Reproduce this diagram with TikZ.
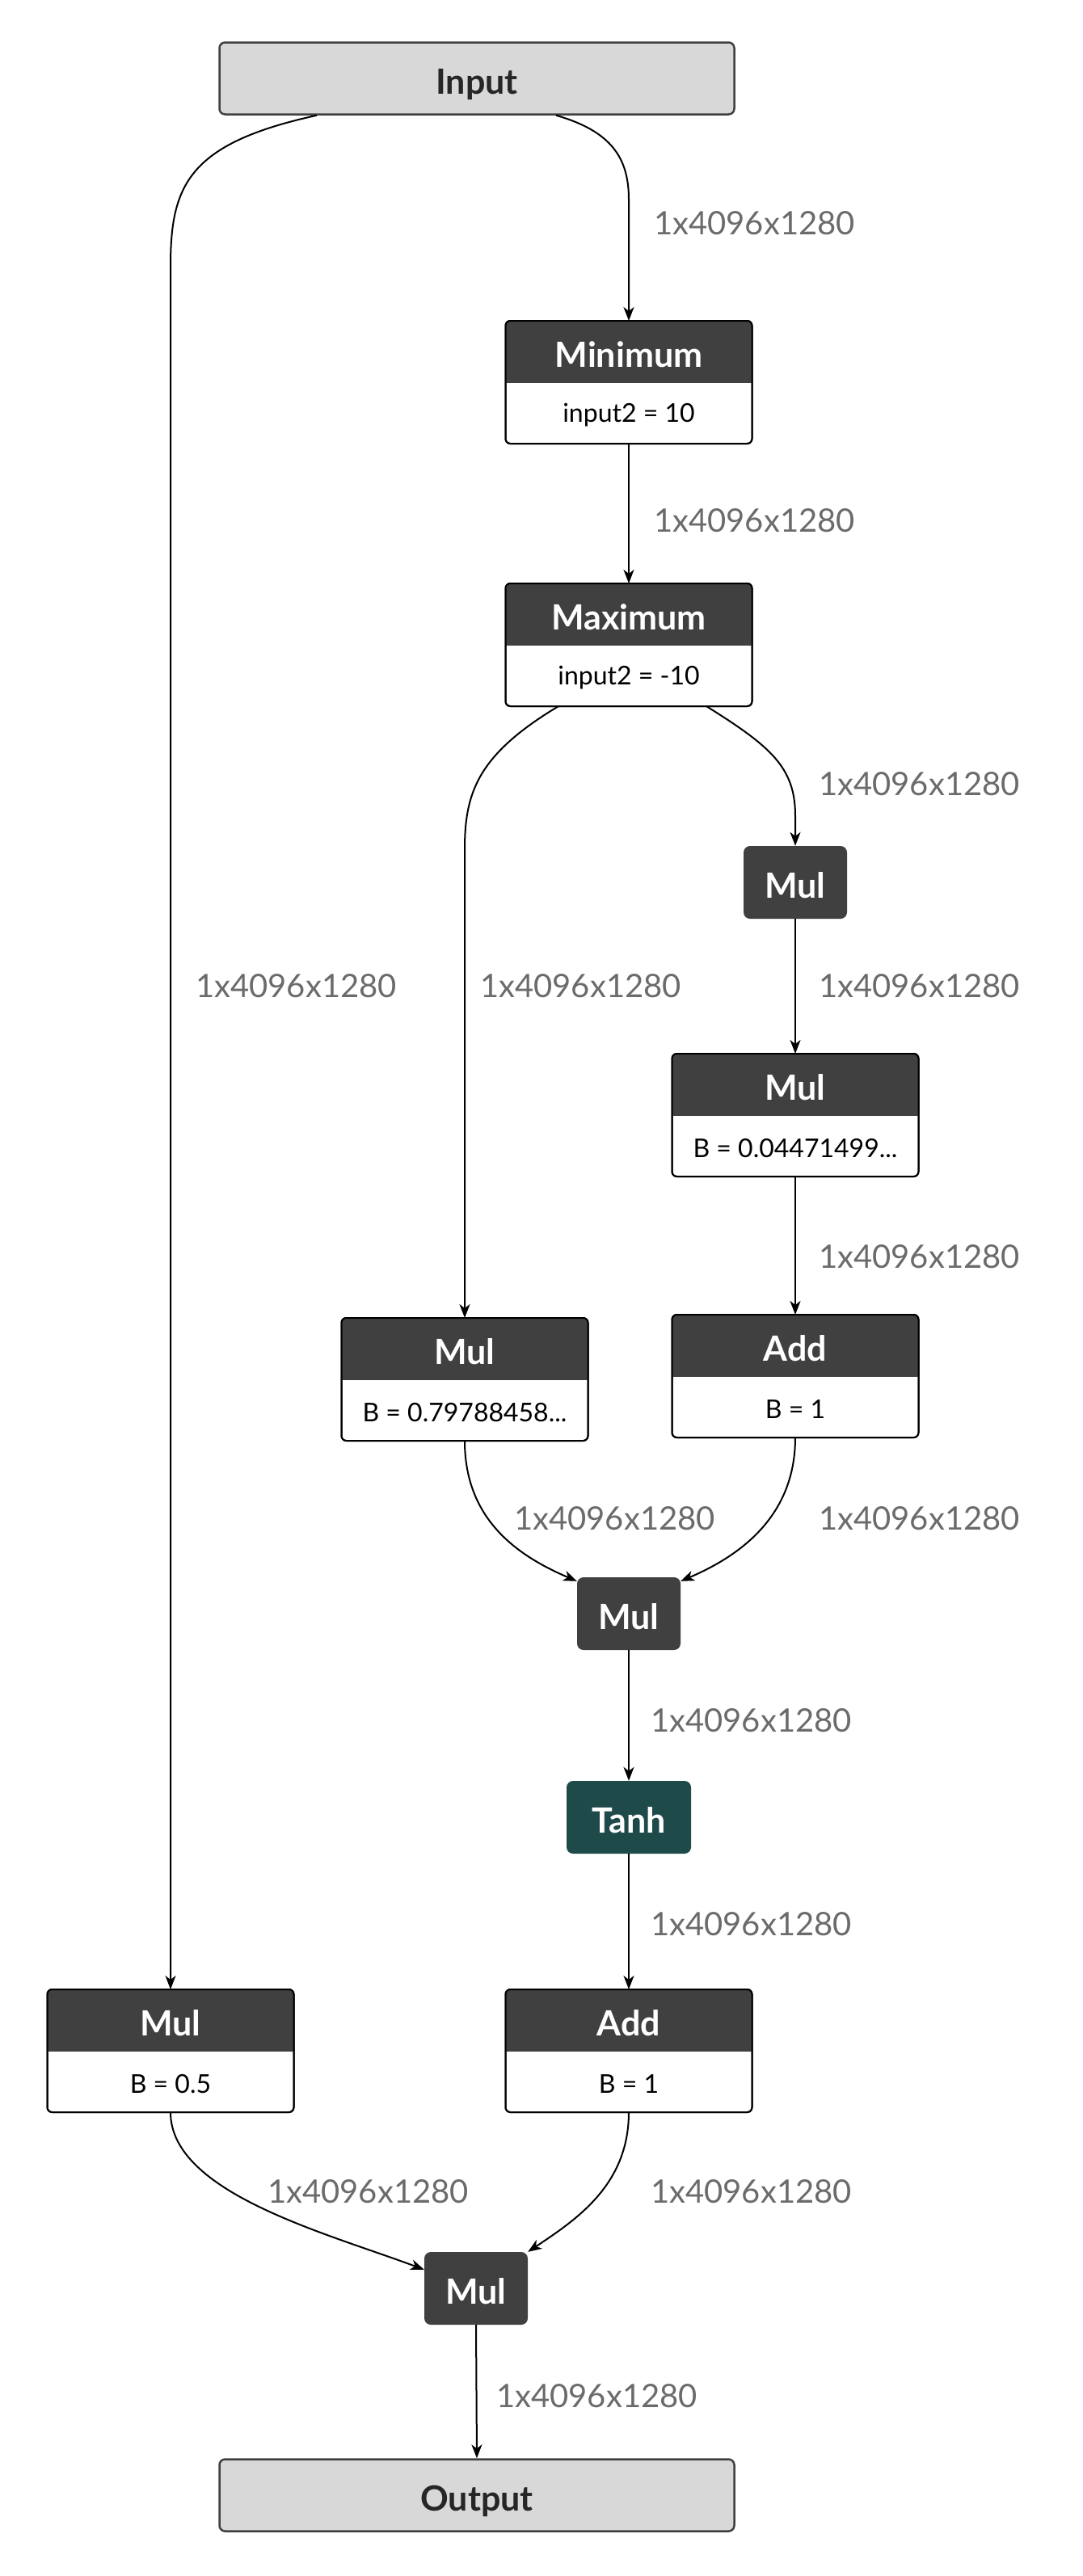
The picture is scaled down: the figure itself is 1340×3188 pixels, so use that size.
\documentclass[tikz,border=0pt]{standalone}
\usepackage{fontspec}
\setmainfont{Lato}
\usetikzlibrary{arrows.meta,calc}

\definecolor{hdr}{HTML}{404040}
\definecolor{ionode}{HTML}{D8D8D8}
\definecolor{actnode}{HTML}{1F4A4A}
\definecolor{dimtext}{HTML}{6B6B6B}

\tikzset{
  edge/.style={draw=black, line width=2pt, -{Stealth[length=17pt,width=13pt,inset=5pt]}},
  iobox/.style={draw=hdr, line width=2.5pt, fill=ionode, rounded corners=7pt,
    minimum width=637pt, minimum height=89pt, text=black!85,
    text height=39pt, text depth=0pt,
    font=\fontsize{43}{50}\selectfont\bfseries},
  opsmall/.style={fill=hdr, rounded corners=8pt, minimum width=128pt,
    minimum height=90pt, text=white, text height=39pt, text depth=0pt,
    font=\fontsize{43}{50}\selectfont\bfseries},
  opbody/.style={draw=black, line width=2pt, fill=white, rounded corners=6pt,
    minimum width=305pt, minimum height=152pt, outer sep=0pt},
  optitle/.style={text=white, inner sep=0pt, font=\fontsize{43}{50}\selectfont\bfseries},
  opattr/.style={text=black, inner sep=0pt, font=\fontsize{32}{38}\selectfont},
  dim/.style={text=dimtext, anchor=west, inner sep=0pt, font=\fontsize{40}{48}\selectfont}
}

% box with dark header and one attribute line
\newcommand{\opnode}[4]{%
  \node[opbody] (#1) at (#2) {};
  \begin{scope}
    \clip[rounded corners=6pt] (#1.north west) rectangle (#1.south east);
    \fill[hdr] (#1.north west) rectangle ([yshift=-77pt]#1.north east);
  \end{scope}
  \draw[line width=2pt, rounded corners=6pt] (#1.north west) rectangle (#1.south east);
  \node[optitle] (#1-t) at ([yshift=-42pt]#1.north) {#3};
  \node[opattr] (#1-a) at ([yshift=35pt]#1.south) {#4};
}

\begin{document}
\begin{tikzpicture}[x=1pt,y=1pt]
\fill[white] (0,0) rectangle (1340,-3188);

\node[iobox] (in) at (590,-97) {Input};
\opnode{min}{778,-473}{Minimum}{input2 = 10}
\opnode{max}{778,-798}{Maximum}{input2 = -10}
\node[opsmall] (mulA) at (984,-1092) {Mul};
\opnode{mulB}{984,-1380}{Mul}{B = 0.04471499...}
\opnode{addA}{984,-1703}{Add}{B = 1}
\opnode{mulC}{575,-1707}{Mul}{B = 0.79788458...}
\node[opsmall] (mulD) at (778,-1997) {Mul};
\node[opsmall, fill=actnode, minimum width=154pt] (tanh) at (778,-2249) {Tanh};
\opnode{mulE}{211,-2538}{Mul}{B = 0.5}
\opnode{addB}{778,-2538}{Add}{B = 1}
\node[opsmall] (mulF) at (589,-2832) {Mul};
\node[iobox] (out) at (590,-3088) {Output};

% connectors
\draw[edge] ([xshift=98pt]in.south) .. controls +(70,-20) and +(0,50) .. ([yshift=150pt]min.north) -- (min.north);
\draw[edge] ([xshift=-198pt]in.south) .. controls +(-160,-35) and +(0,100) .. ([yshift=2132pt]mulE.north) -- (mulE.north);
\draw[edge] (min.south) -- (max.north);
\draw[edge] ([xshift=-87pt]max.south) .. controls +(-100,-60) and +(0,70) .. ([yshift=580pt]mulC.north) -- (mulC.north);
\draw[edge] ([xshift=96pt]max.south) .. controls +(80,-50) and +(0,60) .. ([yshift=37pt]mulA.north) -- (mulA.north);
\draw[edge] (mulA.south) -- (mulB.north);
\draw[edge] (mulB.south) -- (addA.north);
\draw[edge] (mulC.south) .. controls +(0,-100) and +(-70,30) .. ([yshift=-5pt]mulD.north west);
\draw[edge] (addA.south) .. controls +(0,-100) and +(70,30) .. ([yshift=-5pt]mulD.north east);
\draw[edge] (mulD.south) -- (tanh.north);
\draw[edge] (tanh.south) -- (addB.north);
\draw[edge] (mulE.south) .. controls +(0,-100) and +(-120,45) .. ([yshift=-22pt]mulF.north west);
\draw[edge] (addB.south) .. controls +(0,-90) and +(60,40) .. (mulF.north east);
\draw[edge] (mulF.south) -- (out.north);

% tensor shapes
\foreach \x/\y [count=\k] in {809/276, 809/644, 1013/970, 242/1220, 594/1220,
    1013/1220, 1013/1555, 636/1879, 1013/1879, 805/2129, 805/2381, 331/2712,
    805/2712, 614/2965}
  \node[dim] (dim\k) at (\x,-\y) {1x4096x1280};
\end{tikzpicture}
\end{document}
